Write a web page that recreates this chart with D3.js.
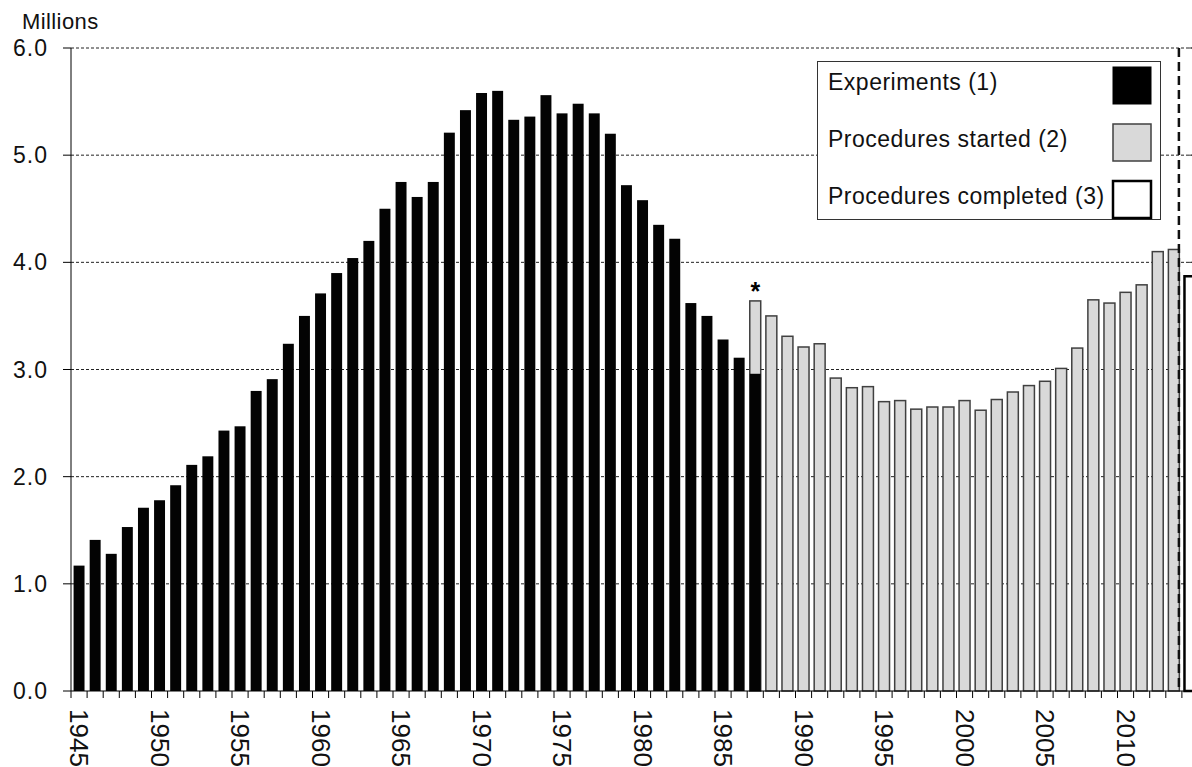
<!DOCTYPE html>
<html>
<head>
<meta charset="utf-8">
<script src="https://cdn.jsdelivr.net/npm/d3@7"></script>
<style>
  html, body { margin: 0; padding: 0; background: #fff; }
  svg { display: block; font-family: "Liberation Sans", Arial, sans-serif; }
</style>
</head>
<body>
<svg id="chart" width="1192" height="767"></svg>
<script>
// ---- Data ----
const years = d3.range(1945, 2015).map(String);
const experimentYears = d3.range(1945, 1988).map(String);
const experiments = [1.17, 1.41, 1.28, 1.53, 1.71, 1.78, 1.92, 2.11, 2.19, 2.43,
  2.47, 2.80, 2.91, 3.24, 3.50, 3.71, 3.90, 4.04, 4.20, 4.50,
  4.75, 4.61, 4.75, 5.21, 5.42, 5.58, 5.60, 5.33, 5.36, 5.56,
  5.39, 5.48, 5.39, 5.20, 4.72, 4.58, 4.35, 4.22, 3.62, 3.50,
  3.28, 3.11, 2.96];
const startedYears = d3.range(1987, 2014).map(String);
const proceduresStarted = [3.64, 3.50, 3.31, 3.21, 3.24, 2.92, 2.83, 2.84, 2.70, 2.71,
  2.63, 2.65, 2.65, 2.71, 2.62, 2.72, 2.79, 2.85, 2.89, 3.01,
  3.20, 3.65, 3.62, 3.72, 3.79, 4.10, 4.12];
const completedYears = ["2014"];
const proceduresCompleted = [3.87];
const yTicks = [0, 1, 2, 3, 4, 5, 6];
const xLabelYears = ["1945","1950","1955","1960","1965","1970","1975","1980","1985","1990","1995","2000","2005","2010"];
const legendItems = [
  {label: "Experiments (1)", fill: "#000000", stroke: "#000000", sw: 1},
  {label: "Procedures started (2)", fill: "#d9d9d9", stroke: "#404040", sw: 1.5},
  {label: "Procedures completed (3)", fill: "#ffffff", stroke: "#000000", sw: 2.5}
];

// ---- Layout ----
const mLeft = 71, mTop = 48, mBottom = 691;
const svg = d3.select("#chart");
const x = d3.scaleBand().domain(years).range([mLeft, mLeft + 70 * 16.1])
  .paddingInner(0.32).paddingOuter(0.16);
const y = d3.scaleLinear().domain([0, 6]).range([mBottom, mTop]);
const step = x.step();
const off = step * 0.16;

// gridlines
svg.append("g").selectAll("line").data(yTicks.filter(d => d > 0)).join("line")
  .attr("x1", mLeft).attr("x2", 1192)
  .attr("y1", d => y(d)).attr("y2", d => y(d))
  .attr("stroke", "#222").attr("stroke-width", 1).attr("stroke-dasharray", "3,2");

// right axis inward ticks
svg.append("g").selectAll("line").data(yTicks).join("line")
  .attr("x1", 1189).attr("x2", 1198)
  .attr("y1", d => y(d)).attr("y2", d => y(d))
  .attr("stroke", "#333").attr("stroke-width", 1);

// procedures started bars
svg.append("g").selectAll("rect").data(startedYears).join("rect")
  .attr("x", d => x(d)).attr("width", x.bandwidth())
  .attr("y", (d, i) => y(proceduresStarted[i]))
  .attr("height", (d, i) => mBottom - y(proceduresStarted[i]))
  .attr("fill", "#d9d9d9").attr("stroke", "#404040").attr("stroke-width", 1.5);

// experiments bars
svg.append("g").selectAll("rect").data(experimentYears).join("rect")
  .attr("x", d => x(d)).attr("width", x.bandwidth())
  .attr("y", (d, i) => y(experiments[i]))
  .attr("height", (d, i) => mBottom - y(experiments[i]))
  .attr("fill", "#030303");

// procedures completed bars
svg.append("g").selectAll("rect").data(completedYears).join("rect")
  .attr("x", d => x(d)).attr("width", x.bandwidth())
  .attr("y", (d, i) => y(proceduresCompleted[i]))
  .attr("height", (d, i) => mBottom - y(proceduresCompleted[i]))
  .attr("fill", "#fff").attr("stroke", "#000").attr("stroke-width", 2.5);

// asterisk above 1987 started bar
svg.append("text")
  .attr("x", x("1987") + x.bandwidth() / 2)
  .attr("y", y(proceduresStarted[0]) - 1)
  .attr("text-anchor", "middle")
  .attr("font-size", 25).attr("font-weight", "bold")
  .text("*");

// dashed vertical separator
svg.append("line")
  .attr("x1", x("2014") - off - 3).attr("x2", x("2014") - off - 3)
  .attr("y1", mTop).attr("y2", mBottom)
  .attr("stroke", "#111").attr("stroke-width", 2.5).attr("stroke-dasharray", "9,5");

// y axis
svg.append("line").attr("x1", mLeft).attr("x2", mLeft).attr("y1", mTop).attr("y2", mBottom)
  .attr("stroke", "#000").attr("stroke-width", 1);
svg.append("g").selectAll("line").data(yTicks).join("line")
  .attr("x1", 63).attr("x2", mLeft)
  .attr("y1", d => y(d)).attr("y2", d => y(d))
  .attr("stroke", "#000");
svg.append("g").selectAll("text").data(yTicks).join("text")
  .attr("x", 48).attr("y", d => y(d))
  .attr("text-anchor", "end").attr("dominant-baseline", "central")
  .attr("font-size", 23).attr("letter-spacing", 1).attr("fill", "#111")
  .text(d => d3.format(".1f")(d));
svg.append("text").attr("x", 22).attr("y", 29)
  .attr("font-size", 22).attr("letter-spacing", 0.4).attr("fill", "#111").text("Millions");

// x axis
svg.append("line").attr("x1", mLeft).attr("x2", 1192).attr("y1", mBottom).attr("y2", mBottom)
  .attr("stroke", "#000").attr("stroke-width", 1);
svg.append("g").selectAll("line").data(years).join("line")
  .attr("x1", d => x(d) - off).attr("x2", d => x(d) - off)
  .attr("y1", mBottom).attr("y2", mBottom + 7)
  .attr("stroke", "#000");
svg.append("g").selectAll("text").data(xLabelYears).join("text")
  .attr("transform", d => `translate(${x(d) + x.bandwidth() / 2},709) rotate(90)`)
  .attr("dominant-baseline", "central")
  .attr("font-size", 26).attr("fill", "#111")
  .text(d => d);

// legend
const lg = svg.append("g");
lg.append("rect").attr("x", 817.5).attr("y", 61.5).attr("width", 343).attr("height", 158)
  .attr("fill", "#fff").attr("stroke", "#333").attr("stroke-width", 1);
legendItems.forEach((it, i) => {
  const cy = 85 + i * 57;
  lg.append("rect").attr("x", 1113).attr("y", cy - 18).attr("width", 38).attr("height", 37)
    .attr("fill", it.fill).attr("stroke", it.stroke).attr("stroke-width", it.sw);
  lg.append("text").attr("x", 828).attr("y", cy - 3)
    .attr("dominant-baseline", "central")
    .attr("font-size", 23).attr("letter-spacing", 0.5).attr("fill", "#111").text(it.label);
});
</script>
</body>
</html>
